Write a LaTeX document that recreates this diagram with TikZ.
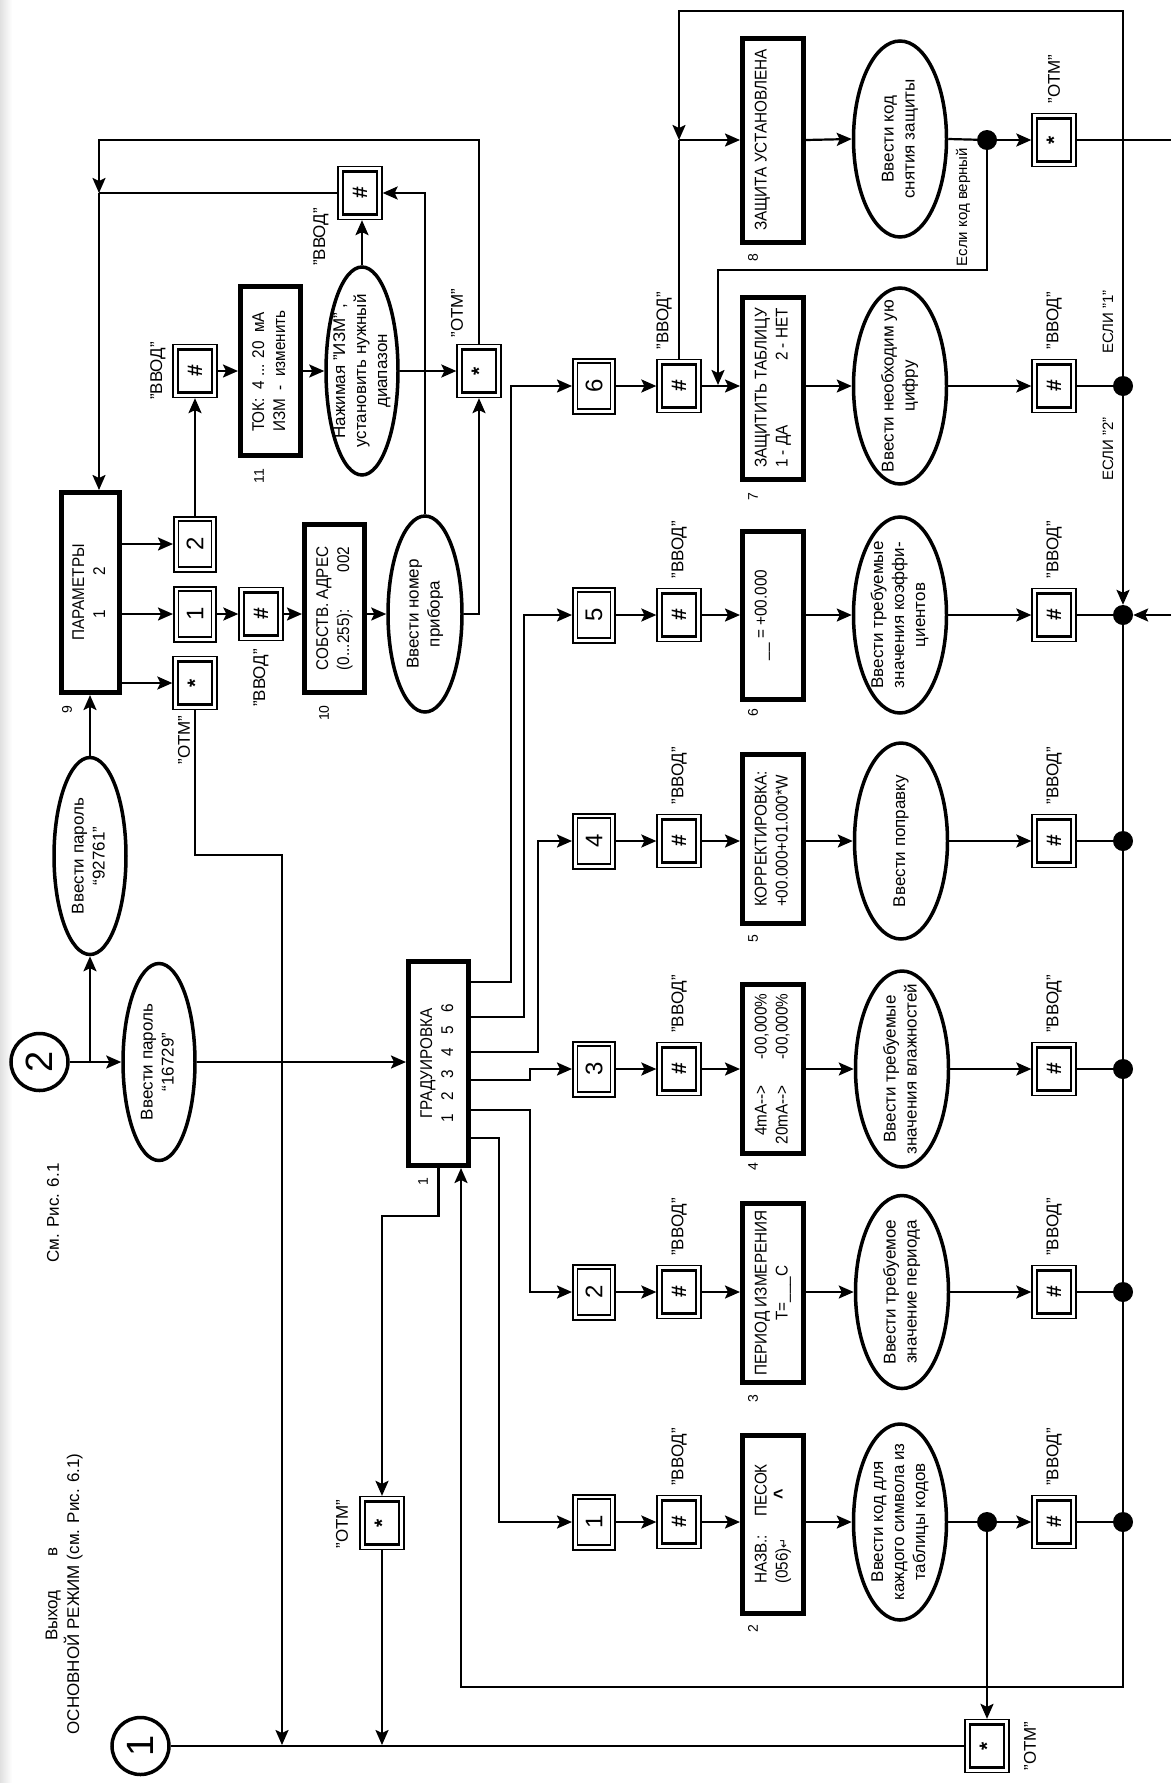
\documentclass[tikz,border=0pt]{standalone}
\usepackage{fontspec}
\setmainfont{Liberation Sans}
\newfontfamily\narrowf{Liberation Sans}[FakeStretch=0.9]
\newfontfamily\dejavu{DejaVu Sans}
\usepackage{graphicx}
\usetikzlibrary{arrows.meta,shapes.geometric,positioning}
\newcommand\fs{\fontsize{17}{21}\selectfont}
\newcommand\fsl{\fontsize{14}{17}\selectfont}
\newcommand\fss{\fontsize{15}{18}\selectfont}
\newcommand\rtx[1]{\rotatebox{90}{\begin{tabular}{@{}c@{}}#1\end{tabular}}}
\newcommand\rtl[1]{\rotatebox{90}{\begin{tabular}{@{}l@{}}#1\end{tabular}}}
\newcommand\dd{\mbox{-}\mbox{-}\mbox{>}}
\tikzset{
  conn/.style={line width=2.2pt},
  arr/.style={line width=2.2pt,-{Stealth[length=15pt,width=13pt,inset=3pt]}},
  dispbox/.style={draw, line width=5pt, rectangle, inner sep=0pt, minimum width=61pt, font=\narrowf\fs},
  ellip/.style={draw, ellipse, line width=3.5pt, inner sep=0pt},
  txt/.style={inner sep=0pt, font=\fs},
  lab/.style={inner sep=0pt, font=\fs},
  slab/.style={inner sep=0pt, font=\fss},
  numlab/.style={inner sep=0pt, font=\fsl},
  keyout/.style={draw, line width=1.3pt, rectangle, inner sep=0pt, minimum width=44pt, minimum height=53pt},
  keyin/.style={draw, line width=2.8pt, rectangle, inner sep=0pt, minimum width=34pt, minimum height=43pt, font=\fontsize{21}{24}\selectfont\bfseries},
  numout/.style={draw, line width=2pt, rectangle, inner sep=0pt, minimum width=42pt, minimum height=55pt},
  numin/.style={draw, line width=1.3pt, rectangle, inner sep=0pt, minimum width=33pt, minimum height=46pt, font=\fontsize{24}{26}\selectfont},
  dot/.style={circle, fill=black, inner sep=0pt, minimum size=20pt},
  bigcirc/.style={circle, draw, line width=3.5pt, inner sep=0pt, minimum size=57pt, font=\fontsize{38}{40}\selectfont},
}
\newcommand\keybox[4]{\node[keyout] (#1) at (#2,#3) {}; \node[keyin] at (#1.center) {\rotatebox{90}{#4}};}
\newcommand\numbox[4]{\node[numout] (#1) at (#2,#3) {}; \node[numin] at (#1.center) {\rotatebox{90}{#4}};}
\newcommand\ellnode[6]{\node[ellip, minimum width=#4pt, minimum height=#5pt] (#1) at (#2,#3) {}; \node[txt] at (#1.center) {\rtx{#6}};}
\begin{document}
\begin{tikzpicture}[x=1pt,y=-1pt]
\useasboundingbox (0,0) rectangle (1171,1783);
\fill[left color=black!12, right color=white] (0,0) rectangle (12,1783);

% ---------- left part ----------
\node[bigcirc] (c2) at (39.5,1062) {\rotatebox{90}{2}};
\node[bigcirc] (c1) at (140.5,1746) {\rotatebox{90}{1}};
\ellnode{ep1}{90}{856}{72}{197}{Ввести пароль\\“92761”}
\ellnode{ep2}{159}{1062}{72}{197}{Ввести пароль\\“16729”}
\node[dispbox, minimum width=58pt, minimum height=200pt] (par) at (90.5,592.5) {\rtx{ПАРАМЕТРЫ\\1\hspace{34pt}2}};
\node[numlab] at (67,710) {\rotatebox{90}{9}};
\numbox{p2}{195}{544}{2}
\numbox{p1}{195}{614}{1}
\keybox{ps}{195}{683}{*}
\keybox{p1h}{261}{614}{\#}
\node[dispbox, minimum width=60pt, minimum height=168pt] (sob) at (334.5,608.5) {\rtl{СОБСТВ. АДРЕС\\(0...255):\hfill 002}};
\node[numlab] at (324,713) {\rotatebox{90}{10}};
\ellnode{enom}{425}{614}{74}{196}{Ввести номер\\прибора}
\keybox{p2h}{195}{371}{\#}
\node[dispbox, minimum width=60pt, minimum height=169pt] (tok) at (270.5,371) {\rtl{ТОК:\ \ 4 ... 20\ \ мА\\ИЗМ\ \ -\ \ изменить}};
\node[numlab] at (259,476) {\rotatebox{90}{11}};
\ellnode{eizm}{362}{371}{72}{208}{Нажимая "ИЗМ" ,\\установить нужный\\диапазон}
\keybox{th}{360}{193}{\#}
\keybox{is}{479}{371}{*}

\node[dispbox, minimum width=60pt, minimum height=204pt] (grad) at (438.5,1063.5) {\rtx{ГРАДУИРОВКА\\1\hspace{13.5pt}2\hspace{13.5pt}3\hspace{13.5pt}4\hspace{13.5pt}5\hspace{13.5pt}6}};
\node[numlab] at (423,1182) {\rotatebox{90}{1}};
\keybox{bs}{382}{1523}{*}
\keybox{brs}{987}{1746}{*}

% labels left
\node[lab] at (158,371) {\rotatebox{90}{"ВВОД"}};
\node[lab] at (321,237) {\rotatebox{90}{"ВВОД"}};
\node[lab] at (261,678) {\rotatebox{90}{"ВВОД"}};
\node[lab] at (184,740) {\rotatebox{90}{"ОТМ"}};
\node[lab] at (457,313) {\rotatebox{90}{"ОТМ"}};
\node[lab] at (342,1524) {\rotatebox{90}{"ОТМ"}};
\node[lab] at (1030,1746) {\rotatebox{90}{"ОТМ"}};
\node[lab] (t61) at (53,1213) {\rotatebox{90}{См. Рис. 6.1}};
\node[lab] (texit) at (64,1594) {\rtx{Выход\hspace{2em}в\\ОСНОВНОЙ РЕЖИМ (см. Рис. 6.1)}};

% ---------- right part ----------
% row 8
\node[dispbox, minimum height=204pt] (z8) at (773,140) {\rtx{ЗАЩИТА УСТАНОВЛЕНА\\\strut}};
\node[numlab] at (753,258) {\rotatebox{90}{8}};
\ellnode{e8}{900}{139}{93}{196}{Ввести код\\снятия защиты}
\node[dot] (d8) at (987,140) {};
\keybox{s8}{1054}{140}{*}
\node[lab, above=9pt of s8] {\rotatebox{90}{"ОТМ"}};
\node[slab] at (963,207) {\rotatebox{90}{Если код верный}};

% row 6
\numbox{n6}{594}{386}{6}
\keybox{h6a}{679}{386}{\#}
\node[dispbox, minimum height=182pt] (z6) at (773,388) {\rtl{ЗАЩИТИТЬ ТАБЛИЦУ\\1 - ДА\hfill 2 - НЕТ}};
\node[numlab] at (753,497) {\rotatebox{90}{7}};
\ellnode{e6}{900}{386}{93}{196}{Ввести необходим ую\\цифру}
\keybox{h6b}{1054}{386}{\#}
\node[dot] (d6) at (1123,386) {};
\node[slab] at (1108,322) {\rotatebox{90}{ЕСЛИ "1"}};
\node[slab] at (1108,449) {\rotatebox{90}{ЕСЛИ "2"}};

% row 5
\numbox{n5}{594}{615}{5}
\keybox{h5a}{679}{615}{\#}
\node[dispbox, minimum height=168pt] (z5) at (773,615) {\rtx{\_\_ = +00.000\\\strut}};
\node[numlab] at (753,713) {\rotatebox{90}{6}};
\ellnode{e5}{900}{615}{93}{196}{Ввести требуемые\\значения коэффи-\\циентов}
\keybox{h5b}{1054}{615}{\#}
\node[dot] (d5) at (1123,615) {};

% row 4
\numbox{n4}{594}{841}{4}
\keybox{h4a}{679}{841}{\#}
\node[dispbox, minimum height=169pt] (z4) at (773,839) {\rtl{КОРРЕКТИРОВКА:\\+00.000+01.000*W}};
\node[numlab] at (753,939) {\rotatebox{90}{5}};
\ellnode{e4}{901}{841}{93}{196}{Ввести поправку}
\keybox{h4b}{1054}{841}{\#}
\node[dot] (d4) at (1123,841) {};

% row 3
\numbox{n3}{594}{1069}{3}
\keybox{h3a}{679}{1069}{\#}
\node[dispbox, minimum height=169pt] (z3) at (773,1069) {\rotatebox{90}{\begin{tabular}{@{}r@{\hspace{26pt}}l@{}}4mA\dd & -00,000\%\\20mA\dd & -00,000\%\end{tabular}}};
\node[numlab] at (753,1167) {\rotatebox{90}{4}};
\ellnode{e3}{902}{1069}{93}{196}{Ввести требуемые\\значения влажностей}
\keybox{h3b}{1054}{1069}{\#}
\node[dot] (d3) at (1123,1069) {};

% row 2
\numbox{n2}{594}{1292}{2}
\keybox{h2a}{679}{1292}{\#}
\node[dispbox, minimum height=179pt] (z2) at (773,1293) {\rtx{ПЕРИОД ИЗМЕРЕНИЯ\\Т=\_\_\_С}};
\node[numlab] at (753,1399) {\rotatebox{90}{3}};
\ellnode{e2}{902}{1292}{93}{193}{Ввести требуемое\\значение периода}
\keybox{h2b}{1054}{1292}{\#}
\node[dot] (d2) at (1123,1292) {};

% row 1
\numbox{n1}{594}{1522}{1}
\keybox{h1a}{679}{1522}{\#}
\node[dispbox, minimum height=178pt] (z1) at (773,1524) {\rotatebox{90}{\begin{tabular}{@{}l@{\hspace{18pt}}l@{}}НАЗВ.: & ПЕСОК\\(056){\dejavu\fontsize{12}{14}\selectfont ↵} & \hspace{17pt}{\bfseries\fontsize{20}{21}\selectfont\symbol{94}}\end{tabular}}};
\node[numlab] at (753,1629) {\rotatebox{90}{2}};
\ellnode{e1}{900}{1522}{93}{196}{Ввести код для\\каждого символа из\\таблицы кодов}
\node[dot] (d1b) at (987,1522) {};
\keybox{h1b}{1054}{1522}{\#}
\node[dot] (d1) at (1123,1522) {};

% ВВОД labels of rows
\foreach \n in {1,2,3,4,5}{
  \node[lab, above=9pt of h\n a] {\rotatebox{90}{"ВВОД"}};
  \node[lab, above=9pt of h\n b] {\rotatebox{90}{"ВВОД"}};
}
\node[lab, above=9pt of h6a, xshift=-15pt] {\rotatebox{90}{"ВВОД"}};
\node[lab, above=9pt of h6b] {\rotatebox{90}{"ВВОД"}};

% ---------- connectors left ----------
\coordinate (j2) at (90,1062);
\draw[arr] (c2.east) -- (ep2.west);
\draw[arr] (j2) -- (ep1.south);
\draw[arr] (ep1.north) -- (ep1.north |- par.south);
\draw[arr] (ep2.east) -- (ep2.east -| grad.west);
\draw[arr] (par.east |- p2) -- (p2.west);
\draw[arr] (par.east |- p1) -- (p1.west);
\draw[arr] (par.east |- ps) -- (ps.west);
\draw[arr] (p1.east) -- (p1h.west);
\draw[arr] (p1h.east) -- (p1h.east -| sob.west);
\draw[arr] (sob.east |- enom) -- (enom.west);
\draw[arr] (enom.east) -| (is.south);
\draw[arr] (enom.north) |- (th.east);
\draw[arr] (p2.north) -- (p2h.south);
\draw[arr] (p2h.east) -- (p2h.east -| tok.west);
\draw[arr] (tok.east |- eizm) -- (eizm.west);
\draw[arr] (eizm.east) -- (is.west);
\draw[arr] (eizm.north) -- (eizm.north |- th.south);
\coordinate (jl) at (99,193);
\coordinate (tl) at (99,140);
\draw[conn] (th.west) -- (jl);
\draw[arr] (is.north) |- (tl) -- (jl);
\draw[arr] (jl) -- (jl |- par.north);
\coordinate (jo) at (282,855);
\coordinate (jb1) at (282,1745);
\draw[arr] (ps.south) |- (jo) -- (jb1);

% grad outputs
\draw[arr] (grad.east |- 0,982) -- (511,982) |- (n6.west);
\draw[arr] (grad.east |- 0,1017) -- (524,1017) |- (n5.west);
\draw[arr] (grad.east |- 0,1052) -- (538,1052) |- (n4.west);
\draw[arr] (grad.east |- 0,1080) -- (530,1080) |- (n3.west);
\draw[arr] (grad.east |- 0,1110) -- (530,1110) |- (n2.west);
\draw[arr] (grad.east |- 0,1138) -- (499,1138) |- (n1.west);
\coordinate (jg) at (438.5,1216);
\draw[arr] (grad.south) -- (jg) -| (bs.north);
\coordinate (jb2) at (382,1745);
\draw[arr] (bs.south) -- (jb2);
\draw[conn] (c1.east) -- (brs.west);
\draw[arr] (d1b) -- (brs.north);

% ---------- connectors rows ----------
\foreach \n in {2,3,4,5,6}{
  \draw[arr] (n\n.east) -- (h\n a.west);
  \draw[arr] (h\n a.east) -- (h\n a.east -| z\n.west);
  \draw[arr] (z\n.east |- e\n) -- (e\n.west);
  \draw[arr] (e\n.east) -- (h\n b.west);
  \draw[conn] (h\n b.east) -- (d\n);
}
\draw[arr] (n1.east) -- (h1a.west);
\draw[arr] (h1a.east) -- (h1a.east -| z1.west);
\draw[arr] (z1.east |- e1) -- (e1.west);
\draw[conn] (e1.east) -- (d1b);
\draw[arr] (d1b) -- (h1b.west);
\draw[conn] (h1b.east) -- (d1);

% row 8
\coordinate (j8) at (679,140);
\coordinate (top) at (679,11);
\coordinate (edge8) at (1171,140);
\coordinate (edge5) at (1171,615);
\coordinate (j6) at (718,385);
\coordinate (jv) at (718,270);
\draw[arr] (j8) -- (z8.west);
\draw[conn] (h6a.north) -- (j8);
\draw[arr] (z8.east) -- (e8.west);
\draw[conn] (e8.east) -- (d8);
\draw[arr] (d8) -- (s8.west);
\draw[conn] (s8.east) -- (edge8);
\draw[arr] (d8) |- (jv) -- (j6);

% bus
\draw[arr] (d6.center) |- (top) -- (j8);
\draw[arr] (d6.center) -- (d5.north);
\draw[arr] (edge5) -- (d5.east);
\coordinate (jbot) at (461,1687);
\draw[arr] (d5.center) |- (jbot) -- (jbot |- grad.south);
\end{tikzpicture}
\end{document}
